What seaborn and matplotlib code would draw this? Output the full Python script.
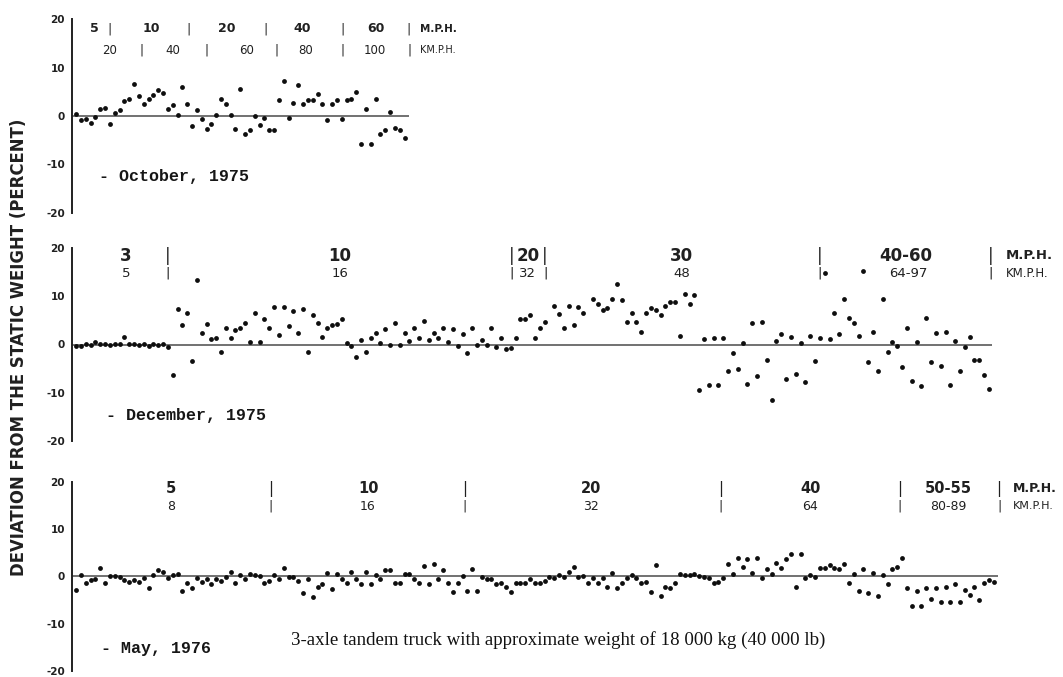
import numpy as np
import pandas as pd
import matplotlib
matplotlib.use("Agg")
import matplotlib.pyplot as plt
import seaborn as sns

# ---------------- data (deviation from static weight, percent) ----------------
oct_1975 = [0.4, -0.8, -0.7, -1.5, -0.3, 1.4, 1.7, -1.7, 0.6, 1.2,
            3.1, 3.5, 6.6, 4.2, 2.5, 3.6, 4.4, 5.4, 4.7, 1.4,
            2.2, 0.3, 5.9, 2.5, -2.0, 1.2, -0.6, -2.6, -1.7, 0.3,
            3.6, 2.5, 0.3, -2.7, 5.5, -3.7, -2.8, 0.1, -1.8, -0.5,
            -2.8, -2.8, 3.4, 7.3, -0.5, 2.6, 6.4, 2.4, 3.4, 3.4,
            4.5, 2.5, -0.8, 2.5, 3.4, -0.6, 3.4, 3.5, 5.0, -5.7,
            1.4, -5.7, 3.6, -3.8, -2.8, 0.8, -2.4, -2.8, -4.6]

dec_1975 = [-0.3, -0.3, 0.2, -0.2, 0.5, 0.2, 0.2, -0.2, 0.2, 0.2,
            1.5, 0.2, 0.2, -0.2, 0.1, -0.3, 0.2, -0.2, 0.1, -0.5,
            -6.4, 7.4, 4.1, 6.5, -3.4, 13.5, 2.4, 4.2, 1.2, 1.3,
            -1.5, 3.5, 1.4, 3.0, 3.5, 4.5, 0.6, 6.6, 0.5, 5.4,
            3.5, 7.9, 2.0, 7.9, 3.8, 7.0, 2.4, 7.3, -1.6, 6.1,
            4.4, 1.5, 3.5, 4.1, 4.2, 5.2, 0.4, -0.3, -2.5, 0.9,
            -1.5, 1.4, 2.4, 0.3, 3.2, 0.0, 4.5, 0.0, 2.4, 0.7,
            3.4, 1.4,
            4.8, 1.0, 2.4, 1.4, 3.4, 0.6, 3.3, -0.3, 2.1, -1.7,
            3.4, -0.1, 0.9, 0.0, 3.4, -0.6, 1.4, -1.0, -0.8,
            1.4, 5.3, 5.3, 6.1, 1.4, 3.5, 4.6,
            np.nan,
            8.1, 6.3, 3.4, 8.1, 4.1, 7.7, 6.5,
            np.nan,
            9.5, 8.4, 7.1, 7.5, 9.5, 12.6, 9.2, 4.6, 6.5, 4.6,
            2.6, 6.5, 7.6, 7.2, 6.2, 8.1, 8.8, 8.8, 1.8, 10.6,
            8.4, 10.3, -9.5, 1.2, -8.4, 1.4, -8.4, 1.4, -5.5, -1.8,
            -5.0, 0.3, -8.3, 4.5, -6.6,
            4.6, -3.3, -11.6, 0.7, 2.1, -7.2, 1.6, -6.2, 0.3, -7.7,
            1.7, -3.4, 1.3, 14.8, 1.2, 6.5, 2.2, 9.5, 5.6, 4.4,
            1.7, 15.3, -3.7, 2.6, -5.5, 9.5, -1.6, 0.6, -0.3, -4.6,
            3.4, -7.5, 0.5, -8.7, 5.6, -3.7, 2.4, -4.4, 2.7, -8.5,
            0.8, -5.6, -0.5, 1.6, -3.3, -3.3, -6.4, -9.2]

may_1976 = [-2.8, 0.3, -1.3, -0.8, -0.6, 1.7, -1.4, 0.1, 0.1, -0.2,
            -0.7, -1.1, -0.7, -1.2, -0.3, -2.4, 0.3, 1.4, 1.0, -0.3,
            0.3, 0.4, -3.2, -1.4, -2.4, -0.4, -1.2, -0.5, -1.6, -0.6,
            -0.9, -0.1, 0.9, -1.3, 0.3, -0.5, 0.5, 0.2, 0.1, -1.3,
            -0.9, 0.3, -0.5, 1.7, -0.2, -0.2, -0.9, -3.5,
            -0.5, -4.4, -2.2, -1.7, 0.7, -2.6, 0.6, -0.5, -1.4, 1.0,
            -0.5, -1.7, 1.0, -1.6, 0.3, -0.5, 1.4, 1.4, -1.4, -1.4,
            0.4, 0.5, -0.5, -1.5, 2.2, -1.6, 2.6, -0.6, 1.4, -1.3,
            -3.4, -1.3, 0.1, -3.2, 1.5, -3.0, -0.2, -0.5, -0.5, -1.6,
            -1.3, -2.2, -3.3, -1.3, -1.3, -1.5, -0.6, -1.3,
            -1.3, -1.0, -0.2, -0.3, 0.2, -0.1, 1.0, 1.9, -0.1, 0.1,
            -1.5, -0.3, -1.3, -0.3, -2.3, 0.8, -2.4, -1.3, -0.3, 0.2,
            -0.3, -1.5, -1.1, -3.3, 2.4, -4.2, -2.2, -2.5, -1.5, 0.4,
            0.2, 0.2, 0.6, 0.0, -0.1, -0.3, -1.5, -1.1, -0.3, 2.6,
            0.6, 3.8, 1.9, 3.6, 0.8, 3.8, -0.4,
            1.6, 0.6, 2.8, 1.7, 3.6, 4.7, -2.2, 4.7, -0.3, 0.3,
            -0.1, 1.7, 1.7, 2.4, 1.8, 1.5, 2.6, -1.4, 0.6, -3.1,
            1.5, -3.5, 0.8, -4.2, 0.3, -1.7, 1.5, 2.0, 3.8, -2.5,
            -6.2, -3.1, -6.2, -2.4, -4.7, -2.5, -5.4, -2.2, -5.5, -1.6,
            -5.4, -2.8, -3.9, -2.3, -4.9, -1.3, -0.8, -1.2]

month_labels = ["- October, 1975", "- December, 1975", "- May, 1976"]

mph_oct = ["5", "|", "10", "|", "20", "|", "40", "|", "60", "|"]
kmph_oct = ["20", "|", "40", "|", "60", "|", "80", "|", "100", "|"]
mph_dec = ["3", "|", "10", "|", "20", "|", "30", "|", "40-60", "|"]
kmph_dec = ["5", "|", "16", "|", "32", "|", "48", "|", "64-97", "|"]
mph_may = ["5", "|", "10", "|", "20", "|", "40", "|", "50-55", "|"]
kmph_may = ["8", "|", "16", "|", "32", "|", "64", "|", "80-89", "|"]
unit_labels = ["M.P.H.", "KM.P.H."]

ytick_values = [-20, -10, 0, 10, 20]
ytick_labels = ["-20", "-10", "0", "10", "20"]

y_label = "DEVIATION FROM THE STATIC WEIGHT (PERCENT)"
caption = "3-axle tandem truck with approximate weight of 18 000 kg (40 000 lb)"

# ---------------- layout (label positions along run axis) ----------------
mph_x_oct = [3.8, 6.9, 15.5, 23.3, 31.1, 39.3, 46.9, 55.1, 62.1, 68.9]
kmph_x_oct = [6.9, 13.5, 20.0, 27.1, 35.2, 41.4, 47.6, 55.2, 61.8, 69.0]
mph_x_dec = [10.3, 19.0, 54.5, 90.1, 93.5, 97.1, 125.4, 153.9, 171.7, 189.3]
kmph_x_dec = [10.3, 19.0, 54.7, 90.1, 93.5, 97.1, 125.4, 153.9, 172.2, 189.3]
mph_x_may = [19.6, 40.2, 60.5, 80.4, 106.6, 133.5, 152.0, 170.5, 180.5, 191.1]
kmph_x_may = [19.6, 40.2, 60.4, 80.4, 106.6, 133.5, 152.0, 170.5, 180.5, 191.1]

panels = [
    dict(vals=oct_1975, bottom_px=213.0, top_px=19.0, line_ext=0.0,
         mph=mph_oct, kmph=kmph_oct, mx=mph_x_oct, kx=kmph_x_oct,
         unit_x=71.1, mph_y=18.0, kmph_y=13.6, mph_fs=9.0, kmph_fs=8.5,
         unit_fs=(7.5, 7.0), month_xy=(4.8, -12.4)),
    dict(vals=dec_1975, bottom_px=440.7, top_px=248.3, line_ext=-0.4,
         mph=mph_dec, kmph=kmph_dec, mx=mph_x_dec, kx=kmph_x_dec,
         unit_x=192.4, mph_y=18.4, kmph_y=14.8, mph_fs=12.0, kmph_fs=9.5,
         unit_fs=(9.5, 8.5), month_xy=(6.1, -14.8)),
    dict(vals=may_1976, bottom_px=671.0, top_px=481.7, line_ext=-0.2,
         mph=mph_may, kmph=kmph_may, mx=mph_x_may, kx=kmph_x_may,
         unit_x=194.0, mph_y=18.5, kmph_y=14.8, mph_fs=10.5, kmph_fs=9.0,
         unit_fs=(9.0, 8.0), month_xy=(5.2, -15.3)),
]

W, H = 1063, 677
sns.set_style("white")
plt.rcParams["font.family"] = ["DejaVu Sans"]

fig = plt.figure(figsize=(W / 100, H / 100), dpi=100)
fig.patch.set_facecolor("white")

left_px, right_px = 72.0, 1000.0
px_per_run = 4.83
x0 = -0.85
x1 = x0 + (right_px - left_px) / px_per_run

dot_color = "#0e0e0e"
ink = "#202020"

for p, month in zip(panels, month_labels):
    ax = fig.add_axes([left_px / W, 1 - p["bottom_px"] / H,
                       (right_px - left_px) / W,
                       (p["bottom_px"] - p["top_px"]) / H])
    vals = p["vals"]
    df = pd.DataFrame({"run": np.arange(len(vals)), "dev": vals}).dropna()
    ax.hlines(0, x0, len(vals) + p["line_ext"], color="#666666", lw=1.3, zorder=1)
    sns.scatterplot(data=df, x="run", y="dev", ax=ax, color=dot_color, s=12,
                    linewidth=0, legend=False, zorder=3)
    ax.set_xlim(x0, x1)
    ax.set_ylim(-20, 20)
    ax.set_xticks([])
    ax.set_xlabel("")
    ax.set_ylabel("")
    ax.set_yticks(ytick_values)
    ax.set_yticklabels(ytick_labels)
    ax.set_yticks([-15, -5, 5, 15], minor=True)
    ax.tick_params(axis="y", which="both", direction="in", length=5, width=1.3,
                   color=ink, pad=5, labelsize=7.5, labelcolor=ink)
    for t in ax.get_yticklabels():
        t.set_fontweight("bold")
    for side in ("top", "right", "bottom"):
        ax.spines[side].set_visible(False)
    ax.spines["left"].set_color(ink)
    ax.spines["left"].set_linewidth(1.4)
    ax.patch.set_alpha(0)

    # speed labels
    for txt, xx in zip(p["mph"], p["mx"]):
        ax.text(xx, p["mph_y"], txt, ha="center", va="center",
                fontsize=p["mph_fs"], fontweight="bold" if txt != "|" else "normal",
                color=ink, clip_on=False)
    for txt, xx in zip(p["kmph"], p["kx"]):
        ax.text(xx, p["kmph_y"], txt, ha="center", va="center",
                fontsize=p["kmph_fs"], fontweight="normal", color=ink, clip_on=False)
    ax.text(p["unit_x"], p["mph_y"], unit_labels[0], ha="left", va="center",
            fontsize=p["unit_fs"][0], fontweight="bold", color=ink, clip_on=False)
    ax.text(p["unit_x"], p["kmph_y"], unit_labels[1], ha="left", va="center",
            fontsize=p["unit_fs"][1], color=ink, clip_on=False)

    ax.text(p["month_xy"][0], p["month_xy"][1], month, ha="left", va="center",
            fontsize=12, family="Liberation Mono", fontweight="bold", color="#161616")

fig.text(19 / W, 1 - 347 / H, y_label, rotation=90, ha="center", va="center",
         fontsize=11.9, fontweight="bold", color=ink)
fig.text(291 / W, 1 - 640 / H, caption, ha="left", va="center",
         fontsize=13.6, family="Liberation Serif", color="#111111")

fig.savefig("out.png", dpi=100, facecolor="white")
